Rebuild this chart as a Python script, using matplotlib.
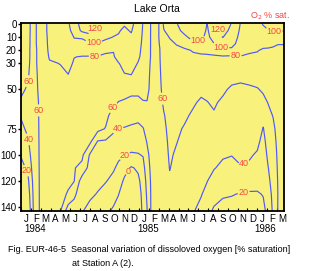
import numpy as np
import matplotlib
matplotlib.use('Agg')
import matplotlib.pyplot as plt

plt.rcParams['font.family'] = ['Liberation Sans', 'DejaVu Sans']

# sampling dates, months after 1 Jan 1984
months = [0.0, 0.7, 1.05, 1.3, 1.9, 2.3, 2.9, 4.0, 4.8, 5.4,
          6.2, 7.0, 7.8, 8.6, 9.4, 9.9, 10.5, 11.2, 11.9, 12.4,
          12.8, 13.2, 13.6, 14.1, 14.5, 15.1, 15.8, 16.6, 17.5, 18.3,
          18.9, 19.6, 20.5, 21.4, 22.3, 23.2, 24.0, 24.6, 25.1, 25.6,
          26.1, 26.7]
depths = [0, 5, 10, 15, 20, 25, 30, 40, 50, 60, 70, 80, 90, 100, 110, 120, 130, 143]

# O2 % saturation, one profile per date (surface -> bottom)
profiles = [
    [67, 67, 67, 66, 66, 65, 65, 63, 61.5, 59, 42, 34, 28, 21, 15, 12, 10, 8],
    [66, 66, 65, 65, 64, 64, 63, 61, 59, 57, 52, 45, 37, 30, 23, 16, 12, 10],
    [57, 57, 57, 57, 57, 57, 57, 57, 56, 55, 54, 52, 48, 44, 39, 33, 28, 24],
    [57, 57, 57, 57, 57, 57, 57, 57, 56, 56, 55, 54, 53, 52, 50, 48, 46, 44],
    [64, 64, 64, 64, 63, 63, 63, 62, 62, 61, 61, 61, 61, 61, 61, 61, 61, 61],
    [72, 72, 71, 71, 70, 69, 68, 67, 66, 65, 64, 64, 63, 63, 63, 63, 63, 63],
    [87, 87, 86, 85, 84, 82, 78, 74, 72, 70, 69, 68, 67, 67, 66, 66, 65, 65],
    [96, 95, 93, 90, 87, 84, 80.5, 76, 73, 71, 69, 68, 67, 66, 65, 64, 63, 61],
    [98, 96, 94, 92, 90, 88, 85, 79, 77, 75, 72, 70, 68, 66, 64, 62, 59, 28],
    [110, 106, 100.5, 97, 88, 80.5, 78, 76, 74, 72, 69, 67, 65, 63, 61, 60.5, 45, 28],
    [128, 124, 101, 97, 90, 79, 78, 76, 74, 72, 70, 68, 66, 64, 55, 30, 25, 21],
    [128, 125, 115, 97, 89, 79, 78, 76, 74, 72, 69, 66, 64, 38, 32, 27, 23, 15],
    [119, 115, 108, 99, 88, 79, 77, 75, 73, 71, 68, 66, 38, 33, 28, 24, 19, 8],
    [108, 106, 103, 95, 82, 78, 77, 75, 72, 68, 65, 59, 37, 32, 27, 21, 13, 4],
    [106, 104, 99.5, 93, 81, 78, 76, 73, 68, 63, 52, 42, 36, 29, 22, 15, 7, -3],
    [104, 101, 99, 96, 93, 88, 79, 72, 66, 59.5, 50, 39.5, 31, 24, 16, 9, 0.5, -6],
    [101, 98, 96, 94, 92, 89, 86, 78, 66, 58, 48, 39, 30, 20.5, 7, -3, -8, -10],
    [104, 101, 98, 95, 93, 90, 87, 79, 64, 56, 47, 37, 28, 18, -2, -8, -10, -10],
    [92, 91, 89, 87, 85, 83, 79, 72, 64, 56, 46, 35, 27, 19, 3, -4, -6, -6],
    [79, 78, 77, 76, 75, 74, 73, 70, 65, 59, 50, 39, 30, 21, 14, 8, 4, 2],
    [70, 70, 69, 69, 68, 68, 67, 65, 63, 59.5, 55, 48, 41, 35, 30, 26, 23, 19],
    [59, 59, 59, 59, 59, 59, 58, 57, 57, 56, 55, 52, 49, 46, 44, 42, 41, 41],
    [56, 56, 56, 56, 56, 56, 56, 55, 55, 54, 54, 53, 52, 51, 50, 49, 48, 47],
    [61, 61, 61, 60.5, 59.8, 59.5, 59, 58, 57, 56, 55, 54, 53, 52, 51, 50, 49, 48],
    [83, 79, 76, 74, 72, 70, 69, 67, 65, 62, 59, 57, 55, 53, 51, 50, 49, 48],
    [92, 87, 80.5, 78, 76, 74, 73, 71, 69, 67, 65, 64, 63, 62, 60.5, 58, 55, 52],
    [99, 96, 90, 80.5, 78, 76, 74, 72, 70, 68, 65, 62, 60.5, 58, 56, 54, 52, 50],
    [108, 104, 97, 90, 76, 75, 74, 72, 68, 65, 62, 59, 56, 54, 52, 50, 48, 46],
    [112, 109, 105, 97, 82, 76, 74, 70, 65, 61.5, 58, 55, 52, 49, 46, 44, 42, 41],
    [112, 110, 104, 96, 84, 77, 75, 70, 63, 58, 55, 52, 50, 48, 46, 43, 41, 35],
    [99.5, 97, 95, 93, 85, 77, 75, 70, 64, 59.5, 56, 53, 50, 47, 44, 40.5, 35, 24],
    [118, 114, 108, 99.5, 86, 78, 76, 71, 66, 62, 58.5, 55, 51, 46, 41, 33, 25, 18],
    [130, 127, 120.5, 110, 95, 78, 76, 70, 63, 57, 53, 50, 46, 42, 36, 30, 22, 14],
    [119, 115, 110, 106, 96, 77, 74, 66, 57, 54, 51, 48, 45, 40.5, 35, 29, 21, 13],
    [99, 97, 95, 92, 88, 79, 75, 63, 57, 55, 52, 49, 46, 43, 39, 28, 19, 10],
    [90, 89, 88, 86, 82, 78, 74, 64, 58, 56, 53, 50, 46, 42, 37, 28, 18, 11],
    [95, 93, 91, 87, 81, 77, 73, 66, 59, 57, 54, 50, 44, 38, 33, 27, 18, 12],
    [101, 96, 91, 85, 78, 75, 72, 67, 62, 56, 47, 39, 34, 30, 27, 24, 21, 15],
    [103, 99.5, 93, 84, 78, 75, 72, 68, 64, 60.5, 56, 52, 48, 44, 39.5, 36, 31, 26],
    [104, 100.5, 94, 82, 78, 75, 72, 69, 66, 63, 60.5, 57, 54, 51, 49, 47, 45, 43],
    [104, 100.5, 94, 80.5, 77, 75, 73, 71, 69, 67, 66, 65, 64, 63, 62, 61, 60.5, 61],
    [104, 100.5, 93, 80.5, 77, 75, 73, 72, 70, 69, 68, 67, 66, 65, 64, 63, 63, 63],
]

levels = [0, 20, 40, 60, 80, 100, 120]
month_letters = list('JFMAMJJASONDJFMAMJJASONDJFM')
years = ['1984', '1985', '1986']
year_x = [1.4, 12.9, 24.8]
ytick_vals = [0, 10, 20, 30, 50, 80, 100, 120, 140]
ytick_labels = ['0', '10', '20', '30', '50', '75', '100', '120', '140']

# where each contour carries its label (month, depth)
label_pos = {
    0: [(10.9, 113)],
    20: [(0.6, 112), (10.4, 99), (22.6, 128)],
    40: [(0.8, 88), (9.8, 80), (22.6, 106)],
    60: [(1.0, 44), (1.9, 66), (9.4, 64), (14.4, 57)],
    80: [(7.5, 24.5), (21.8, 24.5)],
    100: [(7.4, 13), (17.9, 8), (20.3, 18), (25.7, 4.6)],
    120: [(7.3, 3), (20.3, 3)],
}

o2 = np.array(profiles).T

fig = plt.figure(figsize=(3.13, 2.71), dpi=100)
ax = fig.add_axes([0.067, 0.221, 0.840, 0.694])
ax.set_facecolor('#f8f27c')

line_col = '#5058f8'
lab_col = '#f24848'
for lv in levels:
    cs = ax.contour(months, depths, o2, levels=[lv], colors=line_col, linewidths=0.85)
    texts = cs.clabel([lv], manual=label_pos[lv], inline=True, inline_spacing=1,
                      fmt='%d', fontsize=6.5, colors=lab_col)
    for t in texts:
        t.set_rotation(0)

ax.set_xlim(0, 26.7)
ax.set_ylim(143, -0.8)

ax.set_yticks(ytick_vals)
ax.set_yticklabels(ytick_labels, fontsize=7)
ax.tick_params(axis='y', direction='out', length=2, width=1, pad=1)

ax.set_xticks(np.arange(0, 27))
ax.set_xticklabels([])
ax.set_xticks(np.arange(27) + 0.5, minor=True)
ax.set_xticklabels(month_letters, minor=True, fontsize=7)
ax.tick_params(axis='x', which='major', direction='in', length=2, width=0.8)
ax.tick_params(axis='x', which='minor', length=0, pad=2)

for sp in ax.spines.values():
    sp.set_linewidth(1.3)

for y, x in zip(years, year_x):
    ax.text(x, -0.07, y, transform=ax.get_xaxis_transform(), fontsize=7,
            ha='center', va='top')

fig.text(0.5, 0.967, 'Lake Orta', ha='center', va='center', fontsize=7.5)
fig.text(0.80, 0.94, 'O$_2$ % sat.', ha='left', va='center', fontsize=6.5, color=lab_col)
fig.text(0.026, 0.078, 'Fig. EUR-46-5  Seasonal variation of dissoloved oxygen [% saturation]',
         ha='left', va='center', fontsize=6.5)
fig.text(0.23, 0.028, 'at Station A (2).', ha='left', va='center', fontsize=6.5)

fig.savefig('out.png', dpi=100)
